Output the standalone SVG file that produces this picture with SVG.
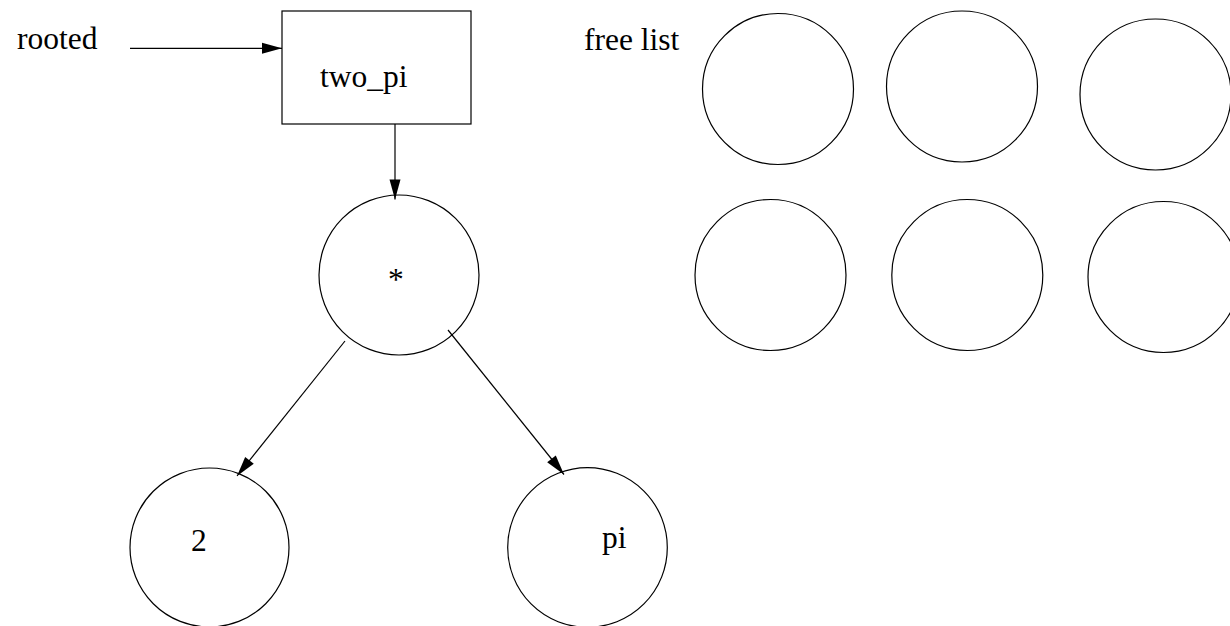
<svg xmlns="http://www.w3.org/2000/svg" width="1230" height="626" viewBox="0 0 1230 626">
<style>
  .shape { fill: #ffffff; stroke: #000000; stroke-width: 1.2; }
  .edge { fill: none; stroke: #000000; stroke-width: 1.2; }
  .lbl { font-family: "Liberation Serif", "Times New Roman", serif; font-size: 31.5px; fill: #000000; }
</style>
<defs>
  <marker id="arrow" markerUnits="userSpaceOnUse" markerWidth="20" markerHeight="11" refX="20" refY="5.5" orient="auto" overflow="visible">
    <path d="M0,0 L20,5.5 L0,11 z" fill="#000000"/>
  </marker>
</defs>
<rect width="1230" height="626" fill="#ffffff"/>

<g id="rooted-label">
  <text class="lbl" x="17" y="49">rooted</text>
</g>
<g id="freelist-label">
  <text class="lbl" x="584" y="50">free list</text>
</g>

<g id="node-two_pi">
  <rect class="shape" x="282" y="11" width="189" height="113"/>
  <text class="lbl" x="320" y="87">two_pi</text>
</g>
<g id="node-times">
  <circle class="shape" cx="399" cy="275" r="80"/>
  <text class="lbl" x="388" y="290">*</text>
</g>
<g id="node-2">
  <circle class="shape" cx="209.5" cy="547.5" r="79.5"/>
  <text class="lbl" x="191" y="551">2</text>
</g>
<g id="node-pi">
  <circle class="shape" cx="587.5" cy="547.5" r="79.8"/>
  <text class="lbl" x="602" y="548">pi</text>
</g>

<g id="free-1"><circle class="shape" cx="778" cy="89" r="75.5"/></g>
<g id="free-2"><circle class="shape" cx="962" cy="86.5" r="75.5"/></g>
<g id="free-3"><circle class="shape" cx="1155.5" cy="94.5" r="75.5"/></g>
<g id="free-4"><circle class="shape" cx="770.5" cy="275" r="75.5"/></g>
<g id="free-5"><circle class="shape" cx="967.3" cy="275" r="75.5"/></g>
<g id="free-6"><circle class="shape" cx="1163.5" cy="277" r="75.5"/></g>

<g id="connectors">
  <line class="edge" x1="130" y1="48.3" x2="282" y2="48.3" marker-end="url(#arrow)"/>
  <line class="edge" x1="395" y1="124" x2="395" y2="199.5" marker-end="url(#arrow)"/>
  <line class="edge" x1="345" y1="341" x2="237" y2="476" marker-end="url(#arrow)"/>
  <line class="edge" x1="448" y1="330" x2="564" y2="474.5" marker-end="url(#arrow)"/>
</g>
</svg>
